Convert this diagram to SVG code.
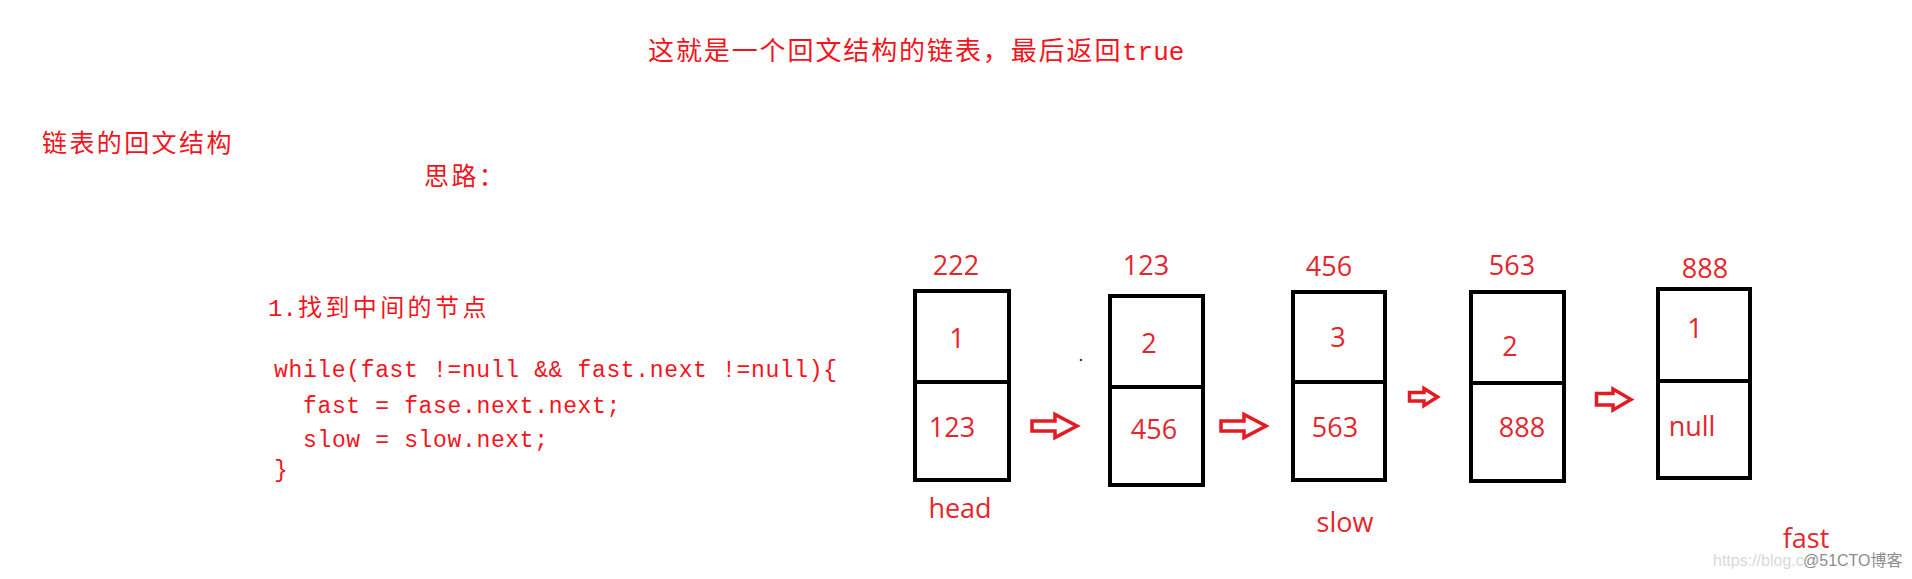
<svg xmlns="http://www.w3.org/2000/svg" width="1912" height="579" viewBox="0 0 1912 579">
<style>
.cjk{font-family:"Noto Sans CJK SC","Liberation Sans",sans-serif;fill:#f5141c;}
.mono{font-family:"Liberation Mono","Noto Sans CJK SC",monospace;fill:#f5141c;}
.code{font-family:"Liberation Mono",monospace;font-size:23px;letter-spacing:0.65px;fill:#f5141c;white-space:pre;}
.lbl{font-family:"Open Sans","Noto Sans",sans-serif;font-size:27px;fill:#e5262d;text-anchor:middle;}
.box{fill:#ffffff;stroke:#000000;stroke-width:4;}
.div{stroke:#000000;stroke-width:4;}
.arr{fill:none;stroke:#e41b23;stroke-width:3.5;stroke-linejoin:miter;}
.wm{font-family:"Liberation Sans","Noto Sans CJK SC",sans-serif;font-size:16px;}
</style>
<rect width="1912" height="579" fill="#ffffff"/>

<g id="title">
<text class="cjk" x="648" y="60" font-size="26" letter-spacing="1.9">这就是一个回文结构的链表，最后返回<tspan class="mono" x="1122" letter-spacing="0">true</tspan></text>
</g>
<g id="heading">
<text class="cjk" x="42" y="152" font-size="25" letter-spacing="2.4">链表的回文结构</text>
</g>
<g id="idea">
<text class="cjk" x="424" y="185" font-size="25" letter-spacing="2.4">思路：</text>
</g>
<g id="step1">
<text class="cjk" x="268" y="316" font-size="24" letter-spacing="3.4"><tspan class="mono" letter-spacing="0">1.</tspan><tspan x="298">找到中间的节点</tspan></text>
</g>
<g id="code">
<text class="code" x="274" y="377">while(fast !=null &amp;&amp; fast.next !=null){</text>
<text class="code" x="303" y="413">fast = fase.next.next;</text>
<text class="code" x="303" y="447">slow = slow.next;</text>
<text class="code" x="274" y="477">}</text>
</g>

<g id="node-222">
<rect class="box" x="915" y="291" width="94" height="189"/>
<line class="div" x1="915" y1="382" x2="1009" y2="382"/>
<text class="lbl" x="956" y="275">222</text>
<text class="lbl" x="957" y="348">1</text>
<text class="lbl" x="952" y="437">123</text>
<text class="lbl" x="960" y="518">head</text>
</g>
<g id="node-123">
<rect class="box" x="1110" y="296" width="93" height="189"/>
<line class="div" x1="1110" y1="387" x2="1203" y2="387"/>
<text class="lbl" x="1146" y="275">123</text>
<text class="lbl" x="1149" y="353">2</text>
<text class="lbl" x="1154" y="439">456</text>
</g>
<g id="node-456">
<rect class="box" x="1293" y="292" width="92" height="188"/>
<line class="div" x1="1293" y1="382" x2="1385" y2="382"/>
<text class="lbl" x="1329" y="276">456</text>
<text class="lbl" x="1338" y="347">3</text>
<text class="lbl" x="1335" y="437">563</text>
<text class="lbl" x="1345" y="532">slow</text>
</g>
<g id="node-563">
<rect class="box" x="1471" y="292" width="93" height="189"/>
<line class="div" x1="1471" y1="383" x2="1564" y2="383"/>
<text class="lbl" x="1512" y="275">563</text>
<text class="lbl" x="1510" y="356">2</text>
<text class="lbl" x="1522" y="437">888</text>
</g>
<g id="node-888">
<rect class="box" x="1658" y="289" width="92" height="189"/>
<line class="div" x1="1658" y1="381" x2="1750" y2="381"/>
<text class="lbl" x="1705" y="278">888</text>
<text class="lbl" x="1695" y="338">1</text>
<text class="lbl" x="1692" y="436">null</text>
<text class="lbl" x="1806" y="548">fast</text>
</g>

<g id="connectors">
<path class="arr" d="M1032,421 H1055 V414.5 L1077,426 L1055,437.5 V431 H1032 Z"/>
<path class="arr" d="M1221,421 H1244 V414.5 L1266,426 L1244,437.5 V431 H1221 Z"/>
<path class="arr" stroke-width="3" d="M1409.5,392.5 H1424 V388.5 L1437.5,397 L1424,405.5 V401 H1409.5 Z"/>
<path class="arr" d="M1596.5,393.5 H1613 V389 L1631,399.5 L1613,410 V405 H1596.5 Z"/>
</g>

<circle cx="1081" cy="360" r="1.3" fill="#444444"/>

<g id="watermark">
<text class="wm" x="1713" y="566" fill="#d9d9d9">https://blog.c</text>
<text class="wm" x="1803" y="566" fill="#8c8c8c">@51CTO博客</text>
</g>
</svg>
